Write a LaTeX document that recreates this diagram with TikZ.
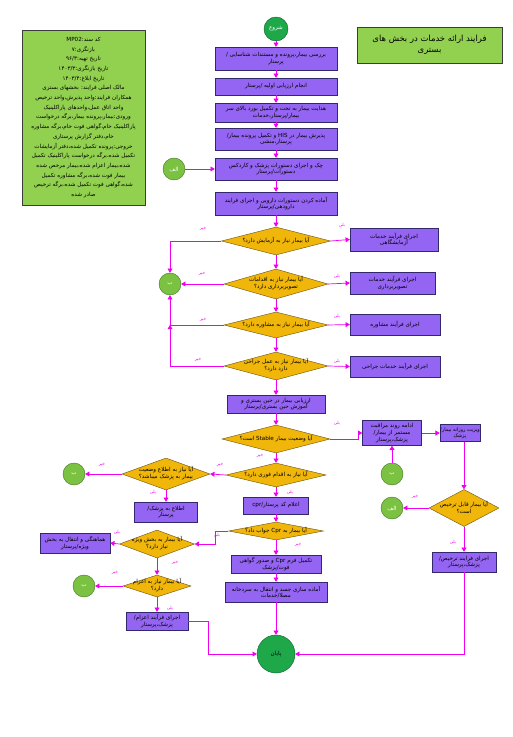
\documentclass[tikz,border=0pt]{standalone}
\usepackage{fontspec}
\usetikzlibrary{arrows.meta}
\usetikzlibrary{shapes.geometric}
\newfontfamily\farsi[Script=Arabic]{DejaVu Sans}
\TeXXeTstate=1

\newcommand{\fatext}[1]{\beginR #1\endR}
\newcommand{\qtext}[2]{\makebox[0pt]{\raisebox{-.4ex}{\smash{\parbox[c]{#1}{\centering #2}}}}}

\definecolor{procfill}{RGB}{148,100,242}
\definecolor{procline}{RGB}{50,40,110}
\definecolor{decfill}{RGB}{240,182,10}
\definecolor{decline}{RGB}{110,85,20}
\definecolor{linkfill}{RGB}{124,194,66}
\definecolor{linkline}{RGB}{70,120,40}
\definecolor{termfill}{RGB}{30,168,74}
\definecolor{termline}{RGB}{15,100,45}
\definecolor{notefill}{RGB}{146,208,80}
\definecolor{noteline}{RGB}{60,60,60}
\definecolor{flowcol}{RGB}{240,0,240}

\tikzset{
  proc/.style={rectangle, draw=procline, fill=procfill, line width=.6pt, align=center, inner sep=1pt, font=\farsi\fontsize{8}{9.5}\selectfont},
  dec/.style={diamond, draw=decline, fill=decfill, line width=.6pt, inner sep=0pt, font=\farsi\fontsize{8}{9.5}\selectfont},
  link/.style={circle, draw=linkline, fill=linkfill, line width=.6pt, minimum size=1.1cm, inner sep=0pt, text=white, font=\farsi\fontsize{8}{9}\selectfont},
  term/.style={circle, draw=termline, fill=termfill, line width=.6pt, inner sep=0pt, font=\farsi\fontsize{8}{9}\selectfont},
  note/.style={rectangle, draw=noteline, fill=notefill, line width=.7pt, align=center, inner sep=2pt},
  flow/.style={draw=flowcol, line width=1pt, -{Triangle[length=6pt,width=7pt]}},
  yn/.style={text=flowcol, inner sep=0pt, font=\farsi\fontsize{6}{7}\selectfont},
}

\begin{document}
\begin{tikzpicture}[x=0.05cm, y=-0.05cm]
\useasboundingbox (0,0) rectangle (512,737);

% document card and title
\node[note, minimum width=6.15cm, minimum height=8.75cm, font=\farsi\fontsize{8}{13.8}\selectfont] (doc) at (83.5,117.5)
  {\fatext{کد سند:\beginL MP02\endL}\\
   \fatext{بازنگری:۷}\\
   \fatext{تاریخ تهیه:۹۶/۳}\\
   \fatext{تاریخ بازنگری:۱۴۰۳/۳}\\
   \fatext{تاریخ ابلاغ:۱۴۰۳/۴}\\
   \fatext{مالک اصلی فرایند: بخشهای بستری}\\
   \fatext{همکاران فرایند:واحد پذیرش،واحد ترخیص}\\
   \fatext{واحد اتاق عمل،واحدهای پاراکلینیک}\\
   \fatext{ورودی:بیمار،پرونده بیمار،برگه درخواست}\\
   \fatext{پاراکلینیک خام،گواهی فوت خام،برگه مشاوره}\\
   \fatext{خام،دفتر گزارش پرستاری}\\
   \fatext{خروجی:پرونده تکمیل شده،دفتر آزمایشات}\\
   \fatext{تکمیل شده،برگه درخواست پاراکلینیک تکمیل}\\
   \fatext{شده،بیمار اعزام شده،بیمار مرخص شده}\\
   \fatext{بیمار فوت شده،برگه مشاوره تکمیل}\\
   \fatext{شده،گواهی فوت تکمیل شده،برگه ترخیص}\\
   \fatext{صادر شده}};
\node[note, minimum width=7.25cm, minimum height=1.8cm, font=\farsi\fontsize{12}{15}\selectfont] (title) at (429.5,45)
  {\fatext{فرایند ارائه خدمات در بخش های}\\\fatext{بستری}};

% main column
\node[term, minimum size=1.2cm, text=white] (start) at (276,29) {\fatext{شروع}};
\node[proc, minimum width=6.1cm, minimum height=1.15cm] (B1) at (276,58.5) {\fatext{بررسی بیمار،پرونده و مستندات شناسایی /}\\\fatext{پرستار}};
\node[proc, minimum width=6.1cm, minimum height=.85cm] (B2) at (276,86.5) {\fatext{انجام ارزیابی اولیه /پرستار}};
\node[proc, minimum width=6.1cm, minimum height=.95cm] (B3) at (276,112.5) {\fatext{هدایت بیمار به تخت و تکمیل بورد بالای سر}\\\fatext{بیمار/پرستار،خدمات}};
\node[proc, minimum width=6.1cm, minimum height=1.1cm] (B4) at (276,139) {\fatext{پذیرش بیمار در HIS و تکمیل پرونده بیمار/}\\\fatext{پرستار،منشی}};
\node[proc, minimum width=6.1cm, minimum height=1.1cm] (B5) at (276,169) {\fatext{چک و اجرای دستورات پزشک و کاردکس}\\\fatext{دستورات/پرستار}};
\node[proc, minimum width=6.1cm, minimum height=1.15cm] (B6) at (276,203.5) {\fatext{آماده کردن دستورات دارویی و اجرای فرایند}\\\fatext{دارودهی/پرستار}};
\node[link] (A1c) at (174,169) {\fatext{الف}};

\node[dec, minimum width=5.45cm, minimum height=1.4cm] (D1) at (276,241) {\qtext{5cm}{\fatext{آیا بیمار نیاز به آزمایش دارد؟}}};
\node[dec, minimum width=5.2cm, minimum height=1.5cm] (D2) at (276,284) {\qtext{5cm}{\fatext{آیا بیمار نیاز به اقدامات}\\\fatext{تصویربرداری دارد؟}}};
\node[dec, minimum width=5.2cm, minimum height=1.3cm] (D3) at (276,325) {\qtext{5cm}{\fatext{آیا بیمار نیاز به مشاوره دارد؟}}};
\node[dec, minimum width=5.2cm, minimum height=1.4cm] (D4) at (276,366) {\qtext{5cm}{\fatext{آیا بیمار نیاز به عمل جراحی}\\\fatext{دارد دارد؟}}};
\node[proc, minimum width=4.4cm, minimum height=1.15cm] (Lab) at (394,239.5) {\fatext{اجرای فرآیند خدمات}\\\fatext{آزمایشگاهی}};
\node[proc, minimum width=4.25cm, minimum height=1.1cm] (Img) at (392.5,283) {\fatext{اجرای فرآیند خدمات}\\\fatext{تصویربرداری}};
\node[proc, minimum width=4.5cm, minimum height=1.05cm] (Mos) at (395,324.5) {\fatext{اجرای فرآیند مشاوره}};
\node[proc, minimum width=4.5cm, minimum height=1.05cm] (Jar) at (395,366.5) {\fatext{اجرای فرآیند خدمات جراحی}};
\node[link] (Bc1) at (170,284) {\fatext{ب}};
\coordinate (j1) at (170,325);

\node[proc, minimum width=4.9cm, minimum height=.9cm] (B7) at (276,404) {\fatext{ارزیابی بیمار در حین بستری و}\\\fatext{آموزش حین بستری/پرستار}};
\node[dec, minimum width=5.4cm, minimum height=1.4cm] (D5) at (276,439) {\qtext{5cm}{\fatext{آیا وضعیت بیمار Stable است؟}}};
\node[proc, minimum width=2.95cm, minimum height=1.25cm] (R1) at (392,433) {\fatext{ادامه روند مراقبت}\\\fatext{مستمر از بیمار/}\\\fatext{پزشک،پرستار}};
\node[proc, minimum width=1.9cm, minimum height=.85cm, inner sep=.5pt, font=\farsi\fontsize{7}{8.5}\selectfont] (R2) at (460,433) {\fatext{ویزیت روزانه بیمار/}\\\fatext{پزشک}};
\node[link] (Bc2) at (392,474) {\fatext{ب}};
\node[dec, minimum width=3.5cm, minimum height=1.85cm] (D8) at (464,508) {\qtext{3cm}{\fatext{آیا بیمار قابل ترخیص}\\\fatext{است؟}}};
\node[link] (A2c) at (392,508) {\fatext{الف}};
\node[proc, minimum width=3.2cm, minimum height=1cm] (Trk) at (464,562) {\fatext{اجرای فرایند ترخیص/}\\\fatext{پزشک،پرستار}};

\node[dec, minimum width=5cm, minimum height=1.2cm] (D6) at (276,475) {\qtext{5cm}{\fatext{آیا نیاز به اقدام فوری دارد؟}}};
\node[dec, minimum width=4.4cm, minimum height=1.6cm] (D9) at (166,474) {\qtext{4cm}{\fatext{آیا نیاز به اطلاع وضعیت}\\\fatext{بیمار به پزشک میباشد؟}}};
\node[link] (Bc3) at (74,474) {\fatext{ب}};
\node[proc, minimum width=3.15cm, minimum height=1cm] (Etl) at (166,512) {\fatext{اطلاع به پزشک/}\\\fatext{پرستار}};
\node[proc, minimum width=3.25cm, minimum height=.85cm] (Cpr) at (276,505.5) {\fatext{اعلام کد cpr/پرستار}};
\node[dec, minimum width=4.75cm, minimum height=.9cm] (D7) at (276,531) {\qtext{4.5cm}{\fatext{آیا بیمار به Cpr جواب داد؟}}};
\node[dec, minimum width=3.75cm, minimum height=1.4cm] (D10) at (157,544) {\qtext{3.5cm}{\fatext{آیا بیمار به بخش ویژه}\\\fatext{نیاز دارد؟}}};
\node[proc, minimum width=3.5cm, minimum height=1cm] (Ham) at (75,543) {\fatext{هماهنگی و انتقال به بخش}\\\fatext{ویژه/پرستار}};
\node[dec, minimum width=3.4cm, minimum height=1.1cm] (D11) at (157,586) {\qtext{3cm}{\fatext{آیا بیمار نیاز به اعزام}\\\fatext{دارد؟}}};
\node[link] (Bc4) at (84,586) {\fatext{ب}};
\node[proc, minimum width=3.1cm, minimum height=.9cm] (Azm) at (157,621) {\fatext{اجرای فرآیند اعزام/}\\\fatext{پزشک،پرستار}};
\node[proc, minimum width=4.5cm, minimum height=.9cm] (F1) at (276,564) {\fatext{تکمیل فرم Cpr و صدور گواهی}\\\fatext{فوت/پزشک}};
\node[proc, minimum width=5.1cm, minimum height=1cm] (F2) at (276,592) {\fatext{آماده سازی جسد و انتقال به سردخانه}\\\fatext{مصلا/خدمات}};
\node[term, minimum size=1.9cm] (End) at (276,654) {\fatext{پایان}};

% connectors
\draw[flow] (start) -- (B1);
\draw[flow] (B1) -- (B2);
\draw[flow] (B2) -- (B3);
\draw[flow] (B3) -- (B4);
\draw[flow] (B4) -- (B5);
\draw[flow] (B5) -- (B6);
\draw[flow] (B6) -- (D1);
\draw[flow] (A1c) -- (B5.west);
\draw[flow] (D1) -- (D2);
\draw[flow] (D2) -- (D3);
\draw[flow] (D3) -- (D4);
\draw[flow] (D4) -- (B7);
\draw[flow] (D1.east) -- (Lab.west);
\draw[flow] (D2.east) -- (Img.west);
\draw[flow] (D3.east) -- (Mos.west);
\draw[flow] (D4.east) -- (Jar.west);
\draw[flow] (D1.west) -| (Bc1.north);
\draw[flow] (D2.west) -- (Bc1.east);
\draw[flow] (D3.west) -| (Bc1.south);
\draw[flow] (D4.west) -| (j1);
\draw[flow] (B7) -- (D5);
\draw[flow] (D5.east) -- ++(28,0) |- (R1.west);
\draw[flow] (R1) -- (R2);
\draw[flow] (Bc2) -- (R1);
\draw[flow] (R2.south -| D8.north) -- (D8.north);
\draw[flow] (D8.west) -- (A2c);
\draw[flow] (D8) -- (Trk);
\draw[flow] (Trk.south) |- (End.east);
\draw[flow] (D5) -- (D6);
\draw[flow] (D6.west) -- (D9.east);
\draw[flow] (D9.west) -- (Bc3);
\draw[flow] (D9) -- (Etl);
\draw[flow] (D6) -- (Cpr);
\draw[flow] (Cpr) -- (D7);
\draw[flow] (D7.west) -- ++(-13,0) |- (D10.east);
\draw[flow] (D10.west) -- (Ham.east);
\draw[flow] (D10) -- (D11);
\draw[flow] (D11.west) -- (Bc4);
\draw[flow] (D11) -- (Azm);
\draw[flow] (Azm.east) -- ++(20,0) |- (End.west);
\draw[flow] (D7) -- (F1);
\draw[flow] (F1) -- (F2);
\draw[flow] (F2) -- (End);

% yes / no labels
\node[yn] (y1) at (342,225) {\fatext{بلی}};
\node[yn] (n1) at (203,229) {\fatext{خیر}};
\node[yn] (y2) at (337,276) {\fatext{بلی}};
\node[yn] (n2) at (202,274) {\fatext{خیر}};
\node[yn] (y3) at (337,316) {\fatext{بلی}};
\node[yn] (n3) at (203,320) {\fatext{خیر}};
\node[yn] (y4) at (337,361) {\fatext{بلی}};
\node[yn] (n4) at (198,360) {\fatext{خیر}};
\node[yn] (y5) at (337,423) {\fatext{بلی}};
\node[yn] (n5) at (260,456) {\fatext{خیر}};
\node[yn] (y6) at (290,492) {\fatext{بلی}};
\node[yn] (n6) at (220,465) {\fatext{خیر}};
\node[yn] (y9) at (153,492) {\fatext{بلی}};
\node[yn] (n9) at (102,465) {\fatext{خیر}};
\node[yn] (y7) at (217,535) {\fatext{بلی}};
\node[yn] (n7) at (298,545) {\fatext{خیر}};
\node[yn] (y10) at (117,532) {\fatext{بلی}};
\node[yn] (n10) at (175,563) {\fatext{خیر}};
\node[yn] (y11) at (170,608) {\fatext{بلی}};
\node[yn] (n11) at (115,573) {\fatext{خیر}};
\node[yn] (y8) at (453,542) {\fatext{بلی}};
\node[yn] (n8) at (415,497) {\fatext{خیر}};
\end{tikzpicture}
\end{document}
